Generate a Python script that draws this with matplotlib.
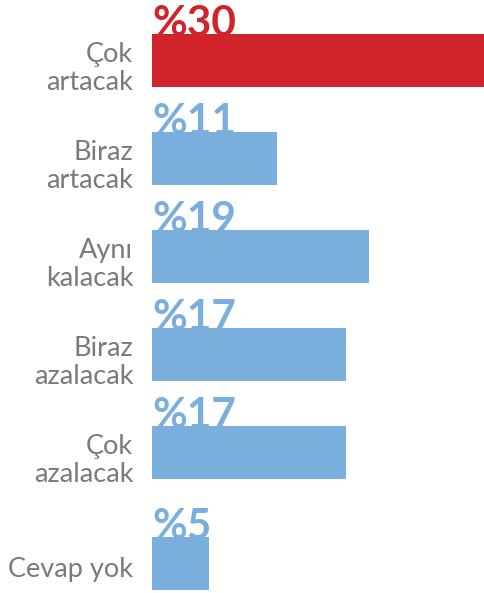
import matplotlib
matplotlib.use("Agg")
import matplotlib.pyplot as plt
import matplotlib.transforms as mtransforms

categories = ["Çok\nartacak", "Biraz\nartacak", "Aynı\nkalacak", "Biraz\nazalacak", "Çok\nazalacak", "Cevap yok"]
values = [30, 11, 19, 17, 17, 5]
value_labels = ["%30", "%11", "%19", "%17", "%17", "%5"]
colors = ["#D0232A", "#7AAFDD", "#7AAFDD", "#7AAFDD", "#7AAFDD", "#7AAFDD"]
positions = [0, 1, 2, 3, 4, 5.13]

W, H = 484, 593
fig = plt.figure(figsize=(W / 100, H / 100), dpi=100)
ax = fig.add_axes([152 / W, 0, 1 - 152 / W, 1])

bar_h = 0.54
ax.barh(positions, values, height=bar_h, color=colors, zorder=3)
ax.set_xlim(0, 29.1)
ax.set_ylim((593 - 60.5) / 98, -60.5 / 98)

for p, lab, c in zip(positions, value_labels, colors):
    ax.text(0.05, p - bar_h / 2 + 0.025, lab, color=c, fontsize=30.5, fontweight="bold",
            family="Lato", ha="left", va="baseline", zorder=2)

ax.set_yticks(positions)
ax.set_yticklabels(categories, fontsize=19.5, color="#7a7a7a", family="Lato", linespacing=1.12)
ax.tick_params(axis="y", length=0, pad=13.5)
offset = mtransforms.ScaledTranslation(0, -3 / 72, fig.dpi_scale_trans)
for t in ax.get_yticklabels():
    t.set_transform(t.get_transform() + offset)
ax.set_xticks([])
for s in ax.spines.values():
    s.set_visible(False)

fig.savefig("out.png", dpi=100)
